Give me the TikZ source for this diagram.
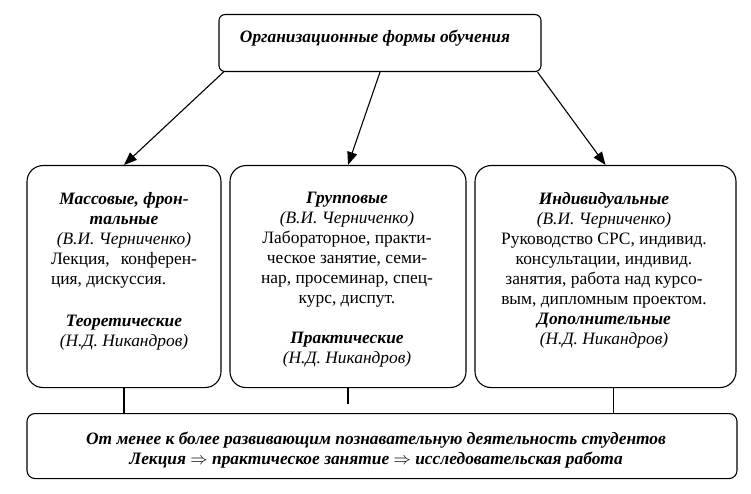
\documentclass[tikz,border=0pt]{standalone}
\usepackage{fontspec}
\setmainfont{Liberation Serif}
\usetikzlibrary{positioning,arrows.meta}

\tikzset{
  form box/.style={draw, rounded corners=16pt, minimum height=222pt, anchor=north},
  form text/.style={align=center, anchor=north, inner sep=0pt, font=\fontsize{17.4}{20}\selectfont},
  head text/.style={align=center, inner sep=0pt, font=\fontsize{17.4}{20}\selectfont\bfseries\itshape}
}

\begin{document}
\begin{tikzpicture}[x=1pt, y=-1pt, >={Triangle[length=13pt,width=10pt]}, line width=1.1pt]
\useasboundingbox (0,0) rectangle (751,494);

% top
\node [draw, rounded corners=6pt, minimum width=322pt, minimum height=57pt, anchor=north] (forms) at (380,14) {};
\node [head text, anchor=base] (forms-text) at (375,43) {Организационные формы обучения};

% three kinds
\node [form box, minimum width=194pt] (mass) at (124,165) {};
\node [form box, minimum width=236pt] (group) at (348,165) {};
\node [form box, minimum width=261pt] (indiv) at (605.5,165) {};

\node [form text] (mass-text) at (124,192) {%
  \textbf{\textit{Массовые, фрон-}}\\
  \textbf{\textit{тальные}}\\
  \textit{(В.И. Черниченко)}\\
  \makebox[146pt][s]{Лекция, конферен-}\\
  \makebox[146pt][l]{ция, дискуссия.}\\[22pt]
  \textbf{\textit{Теоретические}}\\
  \textit{(Н.Д. Никандров)}};

\node [form text] (group-text) at (347,192) {%
  \textbf{\textit{Групповые}}\\
  \textit{(В.И. Черниченко)}\\
  Лабораторное, практи-\\
  ческое занятие, семи-\\
  нар, просеминар, спец-\\
  курс, диспут.\\[20pt]
  \textbf{\textit{Практические}}\\
  \textit{(Н.Д. Никандров)}};

\node [form text] (indiv-text) at (604,192) {%
  \textbf{\textit{Индивидуальные}}\\
  \textit{(В.И. Черниченко)}\\
  Руководство СРС, индивид.\\
  консультации, индивид.\\
  занятия, работа над курсо-\\
  вым, дипломным проектом.\\
  \textbf{\textit{Дополнительные}}\\
  \textit{(Н.Д. Никандров)}};

% bottom
\node [draw, rounded corners=8pt, minimum width=710pt, minimum height=65pt, anchor=north] (result) at (382,413) {};
\node [head text] (result-text) at (376,450) {%
  От менее к более развивающим познавательную деятельность студентов\\
  Лекция $\Rightarrow$ практическое занятие $\Rightarrow$ исследовательская работа};

\draw [->] ([xshift=5pt]forms.south west) -- (mass.north);
\draw [->] (forms.south) -- (group.north);
\draw [->] ([xshift=-4pt]forms.south east) -- (indiv.north);

\coordinate (group-end) at (348,404);
\coordinate (indiv-foot) at ([xshift=8pt]indiv.south);

\draw (mass.south) -- (mass.south |- result.north);
\draw (group.south) -- (group-end);
\draw (indiv-foot) -- (indiv-foot |- result.north);

\end{tikzpicture}
\end{document}
